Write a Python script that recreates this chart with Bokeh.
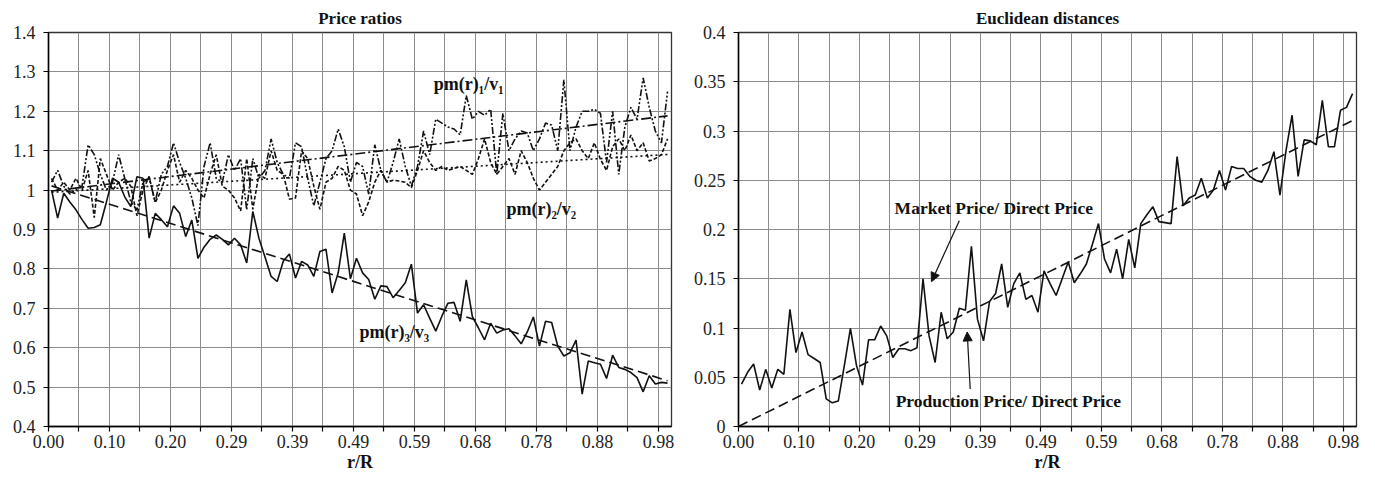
from bokeh.plotting import figure
from bokeh.models import FixedTicker, Label, Arrow, NormalHead, Range1d
from bokeh.layouts import row
from bokeh.embed import file_html
from bokeh.resources import INLINE
import numpy as np

# ---------------- data ----------------
x_tick_labels = ["0.00", "0.10", "0.20", "0.29", "0.39", "0.49",
                 "0.59", "0.68", "0.78", "0.88", "0.98"]

left_y_ticks = [0.4, 0.5, 0.6, 0.7, 0.8, 0.9, 1.0, 1.1, 1.2, 1.3, 1.4]
left_y_labels = ["0.4", "0.5", "0.6", "0.7", "0.8", "0.9", "1", "1.1", "1.2", "1.3", "1.4"]
right_y_ticks = [0.0, 0.05, 0.1, 0.15, 0.2, 0.25, 0.3, 0.35, 0.4]
right_y_labels = ["0", "0.05", "0.1", "0.15", "0.2", "0.25", "0.3", "0.35", "0.4"]

# pm(r)1/v1
price_ratio_1 = [1.02, 1.05, 1.01, 0.99, 1.00, 1.01, 1.115, 1.09, 1.04, 1.00,
                 1.02, 1.09, 1.03, 0.97, 0.95, 1.02, 1.03, 0.97, 1.04, 1.06,
                 1.12, 1.07, 1.03, 0.98, 0.91, 1.06, 1.12, 1.03, 1.02, 1.09,
                 1.05, 1.08, 0.95, 1.08, 1.03, 1.05, 1.13, 1.07, 1.04, 1.03,
                 1.12, 1.11, 1.03, 0.96, 1.02, 1.08, 1.10, 1.155, 1.11, 1.02,
                 1.07, 1.06, 0.99, 1.115, 1.05, 1.02, 1.07, 1.13, 1.06, 1.01,
                 1.06, 1.15, 1.09, 1.18, 1.17, 1.16, 1.155, 1.14, 1.24, 1.18,
                 1.20, 1.19, 1.205, 1.04, 1.195, 1.10, 1.13, 1.15, 1.145, 1.10,
                 1.13, 1.17, 1.165, 1.10, 1.28, 1.10, 1.16, 1.20, 1.20, 1.205,
                 1.195, 1.07, 1.20, 1.04, 1.16, 1.21, 1.18, 1.285, 1.21, 1.15,
                 1.12, 1.25]
# pm(r)2/v2
price_ratio_2 = [1.03, 1.00, 1.02, 1.00, 1.03, 1.00, 1.05, 0.93, 1.08, 1.04,
                 1.00, 1.02, 1.03, 1.01, 0.935, 1.00, 1.035, 0.968, 1.00, 1.05,
                 1.09, 1.02, 1.05, 1.03, 1.00, 0.98, 1.04, 1.09, 1.01, 1.00,
                 0.98, 0.947, 1.08, 0.951, 1.04, 1.03, 1.10, 1.05, 1.04, 0.977,
                 0.98, 1.10, 1.08, 1.01, 0.951, 1.02, 1.03, 1.06, 1.05, 1.00,
                 0.99, 0.935, 0.97, 1.02, 1.05, 1.02, 1.025, 1.023, 1.02, 1.006,
                 1.05, 1.10, 1.07, 1.05, 1.06, 1.05, 1.055, 1.06, 1.05, 1.04,
                 1.08, 1.13, 1.07, 1.04, 1.06, 1.08, 1.04, 1.10, 1.07, 1.03,
                 1.00, 1.02, 1.04, 1.06, 1.10, 1.12, 1.13, 1.10, 1.08, 1.12,
                 1.078, 1.05, 1.11, 1.13, 1.10, 1.14, 1.10, 1.12, 1.074, 1.08,
                 1.09, 1.13]
# pm(r)3/v3
price_ratio_3 = [1.00, 0.929, 0.992, 0.97, 0.950, 0.925, 0.903, 0.905, 0.912, 0.97,
                 1.03, 1.02, 0.983, 0.958, 1.034, 1.03, 0.878, 0.941, 0.925, 0.907,
                 0.960, 0.941, 0.882, 0.924, 0.827, 0.855, 0.875, 0.886, 0.875, 0.861,
                 0.878, 0.861, 0.815, 0.946, 0.878, 0.83, 0.781, 0.768, 0.82, 0.838,
                 0.777, 0.819, 0.81, 0.781, 0.844, 0.85, 0.739, 0.79, 0.891, 0.775,
                 0.827, 0.79, 0.773, 0.723, 0.757, 0.755, 0.727, 0.745, 0.765, 0.812,
                 0.688, 0.709, 0.675, 0.642, 0.68, 0.713, 0.715, 0.667, 0.772, 0.679,
                 0.65, 0.62, 0.662, 0.637, 0.645, 0.648, 0.63, 0.61, 0.64, 0.678,
                 0.604, 0.667, 0.664, 0.604, 0.579, 0.587, 0.619, 0.482, 0.566, 0.562,
                 0.558, 0.522, 0.581, 0.55, 0.545, 0.537, 0.524, 0.488, 0.529, 0.508,
                 0.512, 0.51]
# Euclidean distance market price / direct price
euclid_dist = [0.043, 0.055, 0.0635, 0.037, 0.058, 0.039, 0.058, 0.053, 0.119, 0.075,
               0.096, 0.073, 0.069, 0.065, 0.028, 0.024, 0.026, 0.062, 0.0997, 0.062,
               0.042, 0.088, 0.088, 0.102, 0.092, 0.070, 0.079, 0.079, 0.077, 0.080,
               0.150, 0.092, 0.065, 0.116, 0.089, 0.096, 0.120, 0.118, 0.183, 0.109,
               0.087, 0.127, 0.135, 0.165, 0.121, 0.145, 0.156, 0.129, 0.133, 0.116,
               0.158, 0.145, 0.133, 0.150, 0.167, 0.146, 0.155, 0.165, 0.185, 0.206,
               0.17, 0.156, 0.18, 0.150, 0.19, 0.161, 0.206, 0.215, 0.223, 0.208,
               0.207, 0.206, 0.274, 0.224, 0.232, 0.235, 0.252, 0.232, 0.240, 0.260,
               0.240, 0.264, 0.262, 0.262, 0.254, 0.25, 0.248, 0.26, 0.279, 0.235,
               0.28, 0.316, 0.254, 0.291, 0.29, 0.286, 0.331, 0.284, 0.284, 0.321,
               0.324, 0.338]

n_points = len(price_ratio_3)
pos = [k + 0.5 for k in range(n_points)]   # category positions
X_END = 102.15

FONT = "Liberation Serif"
INK = "#111111"


def style(p, yticks, ylabels):
    xt = list(range(0, 101, 5))
    p.xaxis.ticker = FixedTicker(ticks=xt)
    ov = {t: "" for t in xt}
    for j, lab in enumerate(x_tick_labels):
        ov[10 * j] = lab
    p.xaxis.major_label_overrides = ov
    p.yaxis.ticker = FixedTicker(ticks=yticks)
    p.yaxis.major_label_overrides = {t: l for t, l in zip(yticks, ylabels)}
    p.grid.grid_line_color = "#8c8c8c"
    p.grid.grid_line_width = 1
    p.axis.axis_line_color = "black"
    p.axis.axis_line_width = 1.5
    p.axis.major_tick_line_color = "black"
    p.axis.major_tick_line_width = 1.2
    p.axis.major_tick_out = 5
    p.axis.major_tick_in = 0
    p.axis.minor_tick_line_color = None
    p.axis.major_label_text_font = FONT
    p.axis.major_label_text_font_size = "18px"
    p.axis.major_label_text_color = "#222222"
    p.xaxis.major_label_standoff = 3
    p.yaxis.major_label_standoff = 8
    p.xaxis.axis_label = "r/R"
    p.xaxis.axis_label_text_font = FONT
    p.xaxis.axis_label_text_font_style = "bold"
    p.xaxis.axis_label_text_font_size = "18px"
    p.xaxis.axis_label_standoff = 1
    p.xaxis.axis_label_text_color = "#111111"
    p.title.align = "center"
    p.title.text_font = FONT
    p.title.text_font_size = "17px"
    p.title.text_font_style = "bold"
    p.title.text_color = "#111111"
    p.outline_line_color = "#333333"
    p.outline_line_width = 1.3
    p.background_fill_color = "white"
    p.border_fill_color = "white"


# ---------------- left panel ----------------
p1 = figure(width=686, height=474, output_backend="svg", toolbar_location=None,
            x_range=Range1d(0, X_END), y_range=Range1d(0.4, 1.4),
            min_border_left=48, min_border_right=15, min_border_top=32, min_border_bottom=48,
            title="Price ratios")
style(p1, left_y_ticks, left_y_labels)

xs = np.array(pos)
x_tr = [pos[0], pos[-1]]
for series, dash in [(price_ratio_1, "10 3 2 3"), (price_ratio_2, "2 3"), (price_ratio_3, "10 5")]:
    b, a = np.polyfit(xs, np.array(series), 1)
    p1.line(x_tr, [a + b * x_tr[0], a + b * x_tr[1]], line_color=INK, line_width=1.6, line_dash=dash)

p1.line(pos, price_ratio_2, line_color=INK, line_width=1.6, line_dash="4 2")
p1.line(pos, price_ratio_1, line_color=INK, line_width=1.6, line_dash="7 2 2 2 2 2")
p1.line(pos, price_ratio_3, line_color=INK, line_width=1.6)

for txt, x, y in [("pm(r)₁/v₁", 68.9, 1.269), ("pm(r)₂/v₂", 80.8, 0.953), ("pm(r)₃/v₃", 56.7, 0.640)]:
    p1.add_layout(Label(x=x, y=y, text=txt, text_font=FONT, text_font_style="bold",
                        text_font_size="18px", text_align="center", text_baseline="middle",
                        text_color=INK))

# ---------------- right panel ----------------
p2 = figure(width=673, height=474, output_backend="svg", toolbar_location=None,
            x_range=Range1d(0, X_END), y_range=Range1d(0, 0.4),
            min_border_left=52, min_border_right=3, min_border_top=32, min_border_bottom=48,
            title="Euclidean distances")
style(p2, right_y_ticks, right_y_labels)

ed = np.array(euclid_dist)
slope = float(np.sum(xs * ed) / np.sum(xs * xs))   # trend through origin
p2.line([0, pos[-1]], [0, slope * pos[-1]], line_color=INK, line_width=1.6, line_dash="10 5")
p2.line(pos, euclid_dist, line_color=INK, line_width=1.6)

p2.add_layout(Label(x=42.2, y=0.222, text="Market Price/ Direct Price", text_font=FONT,
                    text_font_style="bold", text_font_size="17.5px", text_align="center",
                    text_baseline="middle", text_color=INK))
p2.add_layout(Label(x=44.6, y=0.026, text="Production Price/ Direct Price", text_font=FONT,
                    text_font_style="bold", text_font_size="17.5px", text_align="center",
                    text_baseline="middle", text_color=INK))
p2.add_layout(Arrow(end=NormalHead(size=9, fill_color=INK, line_color=INK),
                    x_start=36.5, y_start=0.209, x_end=31.9, y_end=0.147,
                    line_color=INK, line_width=1.2))
p2.add_layout(Arrow(end=NormalHead(size=9, fill_color=INK, line_color=INK),
                    x_start=38.3, y_start=0.038, x_end=37.8, y_end=0.096,
                    line_color=INK, line_width=1.2))

layout = row(p1, p2)
open("out.html", "w").write(file_html(layout, INLINE))
